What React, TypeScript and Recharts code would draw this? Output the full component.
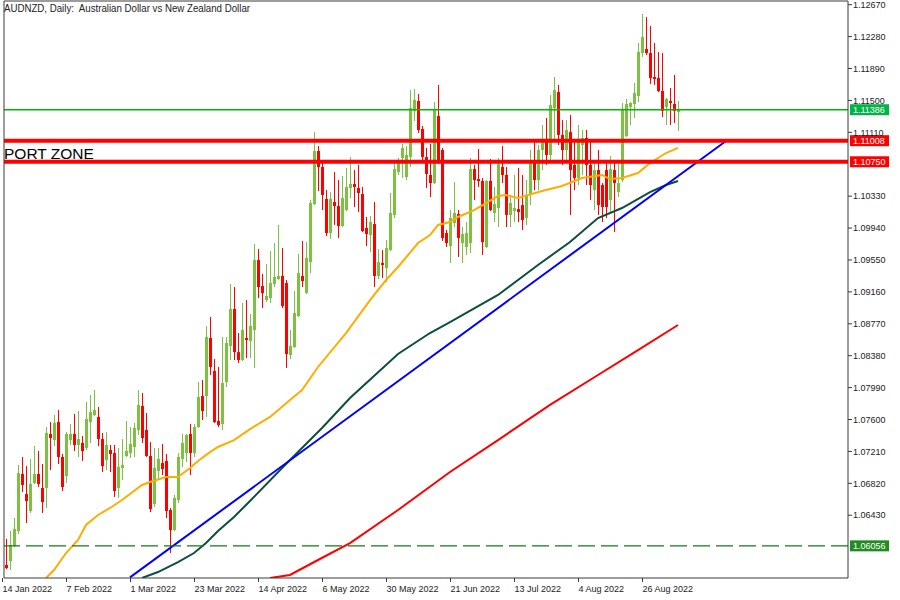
import { Bar, ComposedChart, Line, ReferenceLine, XAxis, YAxis } from 'recharts'

// daily candles, 14 Jan 2022 onwards
const opens = [
  1.05822, 1.05871, 1.06054, 1.06237, 1.06934, 1.0669, 1.06482, 1.06824, 1.06934, 1.06763,
  1.06763, 1.07423, 1.07349, 1.07569, 1.07142, 1.06909, 1.07349, 1.07423, 1.07289, 1.07313,
  1.07252, 1.07569, 1.07655, 1.07631, 1.07361, 1.07105, 1.07227, 1.0719, 1.06763, 1.07007,
  1.07154, 1.0719, 1.07264, 1.07472, 1.07765, 1.07472, 1.07154, 1.06567, 1.06971, 1.07068,
  1.07093, 1.06494, 1.06249, 1.06616, 1.07117, 1.0719, 1.07423, 1.0719, 1.07508, 1.07887,
  1.07887, 1.08596, 1.08193, 1.07582, 1.07545, 1.08058, 1.08498, 1.0895, 1.08424, 1.08327,
  1.08596, 1.0856, 1.08694, 1.09549, 1.09231, 1.0906, 1.09085, 1.09256, 1.09317, 1.09354,
  1.09268, 1.08389, 1.08486, 1.08865, 1.09354, 1.09146, 1.09524, 1.10234, 1.10882, 1.10686,
  1.10295, 1.09879, 1.10258, 1.10209, 1.09965, 1.1016, 1.1043, 1.10478, 1.1043, 1.10356,
  1.09941, 1.09855, 1.09989, 1.09354, 1.09513, 1.09452, 1.09671, 1.101, 1.10624, 1.10796,
  1.10564, 1.10808, 1.11371, 1.11493, 1.1115, 1.10808, 1.10589, 1.1049, 1.11309, 1.10894,
  1.09879, 1.0972, 1.10001, 1.10112, 1.09757, 1.09708, 1.09757, 1.10661, 1.10539, 1.10515,
  1.09708, 1.10515, 1.10124, 1.10185, 1.10686, 1.10589, 1.101, 1.10148, 1.10172, 1.10221,
  1.10063, 1.10344, 1.10771, 1.10527, 1.10894, 1.11016, 1.10833, 1.11407, 1.11602, 1.11078,
  1.10894, 1.11113, 1.10711, 1.10552, 1.10955, 1.11041, 1.10711, 1.10405, 1.10649, 1.10466,
  1.10649, 1.10283, 1.10649, 1.1038, 1.10527, 1.11065, 1.11419, 1.11456, 1.11553, 1.12079,
  1.12128, 1.12079, 1.11786, 1.11774, 1.11615, 1.11419, 1.11493, 1.11456, 1.11358,
]
const highs = [
  1.06139, 1.06237, 1.06396, 1.07044, 1.07142, 1.07031, 1.07117, 1.07276, 1.07215, 1.07056,
  1.07508, 1.07569, 1.07655, 1.07716, 1.07178, 1.07447, 1.07545, 1.07667, 1.07704, 1.07398,
  1.07813, 1.079, 1.0796, 1.07753, 1.07435, 1.07447, 1.07289, 1.07289, 1.07252, 1.07361,
  1.07582, 1.07508, 1.07557, 1.0796, 1.07924, 1.07679, 1.07324, 1.07252, 1.07252, 1.07301,
  1.07178, 1.06519, 1.06678, 1.0719, 1.07423, 1.07423, 1.07545, 1.07545, 1.08058, 1.08083,
  1.08742, 1.08853, 1.08339, 1.08242, 1.08608, 1.08608, 1.09256, 1.09219, 1.08657, 1.09024,
  1.0906, 1.08889, 1.09745, 1.09683, 1.09378, 1.09501, 1.0966, 1.09757, 1.09978, 1.09696,
  1.09305, 1.08694, 1.09171, 1.09623, 1.09782, 1.09769, 1.10283, 1.11113, 1.10942, 1.10735,
  1.10405, 1.1038, 1.10624, 1.10527, 1.10576, 1.10674, 1.10808, 1.10649, 1.10711, 1.10442,
  1.10075, 1.10087, 1.10258, 1.09683, 1.09671, 1.09794, 1.10368, 1.10735, 1.10796, 1.10967,
  1.10942, 1.11627, 1.11639, 1.11578, 1.11187, 1.10919, 1.10967, 1.1148, 1.11689, 1.10919,
  1.09916, 1.1016, 1.10502, 1.1016, 1.09953, 1.10013, 1.10796, 1.10711, 1.10906, 1.10552,
  1.10527, 1.10783, 1.10442, 1.10796, 1.10942, 1.10686, 1.10344, 1.10589, 1.10674, 1.10589,
  1.10527, 1.10894, 1.11016, 1.10955, 1.112, 1.11285, 1.11566, 1.11786, 1.11689, 1.1126,
  1.1126, 1.11322, 1.11016, 1.112, 1.11138, 1.11138, 1.11016, 1.10771, 1.10894, 1.1049,
  1.10735, 1.1082, 1.10747, 1.10723, 1.11468, 1.11517, 1.1148, 1.11712, 1.12201, 1.12556,
  1.12519, 1.12409, 1.12201, 1.12091, 1.12079, 1.1153, 1.11652, 1.11811, 1.11493,
]
const lows = [
  1.05772, 1.0576, 1.06042, 1.06201, 1.06713, 1.06335, 1.06457, 1.06812, 1.06775, 1.06457,
  1.06519, 1.06983, 1.07276, 1.07056, 1.06726, 1.06824, 1.07289, 1.07215, 1.07142, 1.07093,
  1.07227, 1.07313, 1.07642, 1.07276, 1.06958, 1.06983, 1.06958, 1.06653, 1.06641, 1.0686,
  1.07142, 1.0713, 1.07142, 1.07411, 1.07313, 1.07142, 1.06469, 1.06531, 1.06872, 1.06922,
  1.06396, 1.05968, 1.06237, 1.06579, 1.07019, 1.0708, 1.06922, 1.07142, 1.07496, 1.07594,
  1.07631, 1.08144, 1.07557, 1.07508, 1.07472, 1.07997, 1.08327, 1.08327, 1.0829, 1.08315,
  1.08352, 1.08352, 1.0823, 1.09085, 1.08963, 1.09036, 1.09024, 1.09219, 1.09305, 1.08963,
  1.0823, 1.08339, 1.08474, 1.08853, 1.09219, 1.09134, 1.0939, 1.10221, 1.10393, 1.1016,
  1.09842, 1.09806, 1.09978, 1.09819, 1.09953, 1.10148, 1.10307, 1.10197, 1.10136, 1.09891,
  1.0972, 1.09647, 1.09219, 1.09317, 1.0933, 1.0928, 1.0966, 1.10063, 1.10589, 1.10552,
  1.10527, 1.10686, 1.11248, 1.11101, 1.1076, 1.1043, 1.10319, 1.10478, 1.10723, 1.09782,
  1.09708, 1.09513, 1.09953, 1.09586, 1.09513, 1.09611, 1.09635, 1.10283, 1.10442, 1.09611,
  1.09696, 1.10148, 1.10013, 1.09953, 1.1049, 1.09953, 1.09953, 1.10013, 1.10013, 1.09916,
  1.09978, 1.10221, 1.10405, 1.10405, 1.10649, 1.10711, 1.10771, 1.11016, 1.10955, 1.10711,
  1.10771, 1.101, 1.10405, 1.10466, 1.10589, 1.10466, 1.10283, 1.1016, 1.101, 1.10013,
  1.10063, 1.10136, 1.09891, 1.10319, 1.10502, 1.11053, 1.112, 1.11285, 1.1148, 1.1203,
  1.12055, 1.11701, 1.11689, 1.11602, 1.11297, 1.112, 1.112, 1.11224, 1.11126,
]
const closes = [
  1.05785, 1.06067, 1.06261, 1.06946, 1.068, 1.06604, 1.06812, 1.06934, 1.06812, 1.06591,
  1.07435, 1.07374, 1.07557, 1.07142, 1.06775, 1.07423, 1.07423, 1.07289, 1.07361, 1.07215,
  1.07606, 1.07691, 1.07716, 1.07361, 1.07031, 1.07289, 1.07178, 1.06726, 1.07019, 1.07044,
  1.07215, 1.07301, 1.07496, 1.07778, 1.07374, 1.07154, 1.06506, 1.07007, 1.07117, 1.06995,
  1.06482, 1.06249, 1.06641, 1.07142, 1.07313, 1.07411, 1.0719, 1.07508, 1.07875, 1.07704,
  1.08608, 1.08242, 1.07569, 1.07532, 1.08046, 1.08535, 1.0895, 1.08424, 1.08327, 1.08694,
  1.08572, 1.08742, 1.09549, 1.09219, 1.09146, 1.09109, 1.09268, 1.09342, 1.09354, 1.08987,
  1.08401, 1.08498, 1.08901, 1.0939, 1.09293, 1.09574, 1.10246, 1.10882, 1.10686, 1.10344,
  1.09879, 1.10295, 1.10209, 1.09965, 1.10307, 1.10442, 1.10478, 1.10442, 1.10368, 1.09904,
  1.09867, 1.10013, 1.09354, 1.09524, 1.09489, 1.09696, 1.10124, 1.10661, 1.10735, 1.10919,
  1.10833, 1.11407, 1.11505, 1.11138, 1.10808, 1.10601, 1.1049, 1.11383, 1.10735, 1.09819,
  1.09757, 1.10063, 1.10124, 1.09819, 1.09867, 1.09879, 1.10661, 1.10527, 1.10515, 1.09769,
  1.10515, 1.1016, 1.10234, 1.10723, 1.10589, 1.101, 1.10246, 1.10185, 1.10136, 1.10038,
  1.10344, 1.10771, 1.10527, 1.10894, 1.11016, 1.10833, 1.11444, 1.11627, 1.11078, 1.10894,
  1.11138, 1.10649, 1.10552, 1.11016, 1.11041, 1.10711, 1.10466, 1.10649, 1.10221, 1.10197,
  1.10197, 1.10661, 1.1049, 1.1049, 1.11383, 1.11456, 1.11468, 1.1159, 1.12091, 1.12275,
  1.12079, 1.11774, 1.11761, 1.11615, 1.11371, 1.11517, 1.11468, 1.11371, 1.11386,
]

// [bar index, value]
const ma50 = [
  [10, 1.05663], [12, 1.0576], [15, 1.05968], [18, 1.06127], [20, 1.06311], [23, 1.06433],
  [26, 1.06519], [29, 1.06616], [34, 1.068], [36, 1.06836], [40, 1.06897], [43, 1.06897],
  [46, 1.07007], [48, 1.07093], [51, 1.07202], [53, 1.07264], [57, 1.07349], [61, 1.07483],
  [66, 1.07631], [71, 1.07838], [74, 1.0796], [78, 1.08242], [85, 1.08657], [91, 1.0906],
  [95, 1.09305], [98, 1.09464], [103, 1.09757], [106, 1.09855], [108, 1.09978], [111, 1.10013],
  [113, 1.10075], [117, 1.1016], [120, 1.10246], [123, 1.10331], [125, 1.10344], [128, 1.10307],
  [134, 1.10393], [139, 1.10454], [144, 1.10552], [149, 1.10589], [151, 1.10539], [154, 1.10552],
  [158, 1.10612], [161, 1.10735], [165, 1.10857], [168, 1.10919],
]
const ma100 = [
  [34, 1.05663], [38, 1.05736], [43, 1.05858], [47, 1.05968], [50, 1.0609], [53, 1.06237],
  [57, 1.06408], [61, 1.06604], [70, 1.07056], [79, 1.07496], [86, 1.07863], [98, 1.08401],
  [106, 1.08657], [111, 1.08791], [123, 1.09122], [133, 1.09489], [141, 1.09769], [148, 1.10063],
  [154, 1.10185], [161, 1.1038], [165, 1.10466], [168, 1.10515],
]
const ma200 = [
  [66, 1.05663], [71, 1.057], [78, 1.05883], [86, 1.0609], [98, 1.06494], [111, 1.06958],
  [123, 1.07349], [136, 1.07778], [148, 1.08144], [158, 1.08449], [168, 1.08755],
]
const trend = [[31, 1.0567], [180, 1.11004]]

const dateTicks = [0, 16, 32, 48, 64, 80, 96, 112, 128, 144, 160]
const dateLabels = [
  '14 Jan 2022', '7 Feb 2022', '1 Mar 2022', '23 Mar 2022', '14 Apr 2022', '6 May 2022',
  '30 May 2022', '21 Jun 2022', '13 Jul 2022', '4 Aug 2022', '26 Aug 2022',
]
const priceTicks = [
  1.1267, 1.1228, 1.1189, 1.115, 1.1111, 1.1033, 1.0994, 1.0955, 1.0916, 1.0877, 1.0838,
  1.0799, 1.076, 1.0721, 1.0682, 1.0643,
]

const SLOTS = 211
const FONT = "'Liberation Sans', Arial, sans-serif"
const FRAME = '#3a3a3a'

const asMap = (pts: number[][]) => new Map(pts.map(([i, v]) => [i, v]))
const m50 = asMap(ma50)
const m100 = asMap(ma100)
const m200 = asMap(ma200)
const mTrend = asMap(trend)

const data = Array.from({ length: SLOTS }, (_, i) => ({
  i,
  range: i < opens.length ? [lows[i], highs[i]] : null,
  open: opens[i],
  high: highs[i],
  low: lows[i],
  close: closes[i],
  ma50: m50.get(i) ?? null,
  ma100: m100.get(i) ?? null,
  ma200: m200.get(i) ?? null,
  trend: mTrend.get(i) ?? null,
}))

function Candle(props: any) {
  const { x, y, width, height, payload } = props
  if (payload == null || payload.open == null) return null
  const top = Math.min(y, y + height)
  const h = Math.abs(height)
  const { open, high, low, close } = payload
  const py = (v: number) => top + ((high - v) / (high - low)) * h
  const color = close >= open ? '#7dc142' : '#ff0000'
  const cx = Math.round(x + width / 2)
  const bTop = py(Math.max(open, close))
  const bBot = py(Math.min(open, close))
  return (
    <g>
      <line x1={cx + 0.5} x2={cx + 0.5} y1={top} y2={top + h} stroke={color} strokeWidth={1} />
      <rect x={cx - 1} y={bTop} width={3} height={Math.max(1, bBot - bTop)} fill={color} />
    </g>
  )
}

function DateTick(props: any) {
  const { x, y, payload } = props
  const k = dateTicks.indexOf(payload.value)
  const tx = Math.round(x - 3) - 0.5
  return (
    <g>
      <line x1={tx} x2={tx} y1={y} y2={y + 4} stroke={FRAME} />
      <text x={tx} y={y + 14} fontSize={9} fill="#222" fontFamily={FONT}>
        {dateLabels[k]}
      </text>
    </g>
  )
}

function Badge(props: any) {
  const { viewBox, text, fill } = props
  if (!viewBox) return null
  const bx = viewBox.x + viewBox.width + 2
  return (
    <g>
      <rect x={bx} y={viewBox.y - 5.5} width={39} height={11} fill={fill} />
      <text x={bx + 3} y={viewBox.y + 3.5} fontSize={9} fill="#fff" fontFamily={FONT}>
        {text}
      </text>
    </g>
  )
}

export default function App() {
  return (
    <div style={{ position: 'absolute', left: 0, top: 0, width: 900, height: 600, background: '#fff' }}>
      <ComposedChart
        width={900}
        height={600}
        data={data}
        margin={{ top: 0, right: 0, bottom: 0, left: 0 }}
        barCategoryGap={0}
        barGap={0}
      >
        <XAxis
          dataKey="i"
          ticks={dateTicks}
          interval={0}
          height={22}
          tickLine={false}
          tickSize={0}
          tickMargin={0}
          axisLine={{ stroke: FRAME }}
          tick={<DateTick />}
        />
        <XAxis xAxisId="top" dataKey="i" orientation="top" height={1} tick={false} tickLine={false} axisLine={{ stroke: FRAME }} />
        <YAxis yAxisId="left" orientation="left" width={4} tick={false} tickLine={false} axisLine={{ stroke: FRAME }} />
        <YAxis
          yAxisId="p"
          type="number"
          orientation="right"
          domain={[1.05663, 1.12715]}
          allowDataOverflow
          ticks={priceTicks}
          interval={0}
          tickFormatter={(v: number) => v.toFixed(5)}
          width={52}
          stroke={FRAME}
          tickSize={4}
          tickMargin={1}
          tick={{ fill: '#222', fontSize: 9, fontFamily: FONT }}
        />
        <Bar yAxisId="p" dataKey="range" shape={<Candle />} isAnimationActive={false} />
        <Line yAxisId="p" dataKey="ma200" stroke="#ff0000" strokeWidth={2} dot={false} connectNulls isAnimationActive={false} />
        <Line yAxisId="p" dataKey="ma100" stroke="#0d4f3c" strokeWidth={2} dot={false} connectNulls isAnimationActive={false} />
        <Line yAxisId="p" dataKey="trend" stroke="#0000ff" strokeWidth={2} dot={false} connectNulls isAnimationActive={false} />
        <Line yAxisId="p" dataKey="ma50" stroke="#ffad00" strokeWidth={2} dot={false} connectNulls isAnimationActive={false} />
        <ReferenceLine yAxisId="p" y={1.11386} stroke="#00b800" strokeWidth={1.3} label={<Badge text="1.11386" fill="#00b446" />} />
        <ReferenceLine yAxisId="p" y={1.11008} stroke="#ff0000" strokeWidth={4} label={<Badge text="1.11008" fill="#ff0000" />} />
        <ReferenceLine yAxisId="p" y={1.1075} stroke="#ff0000" strokeWidth={4} label={<Badge text="1.10750" fill="#ff0000" />} />
        <ReferenceLine yAxisId="p" y={1.06056} stroke="#157a15" strokeWidth={1.3} strokeDasharray="17 6" label={<Badge text="1.06056" fill="#228b22" />} />
      </ComposedChart>
      <svg width={900} height={600} style={{ position: 'absolute', left: 0, top: 0, pointerEvents: 'none' }}>
        <text x={4} y={12} fontSize={11} fill="#222" fontFamily={FONT} textLength={246} lengthAdjust="spacingAndGlyphs" style={{ whiteSpace: 'pre' }}>
          AUDNZD, Daily:  Australian Dollar vs New Zealand Dollar
        </text>
        <text x={4} y={159} fontSize={15.5} fill="#000" fontFamily={FONT}>
          PORT ZONE
        </text>
      </svg>
    </div>
  )
}
